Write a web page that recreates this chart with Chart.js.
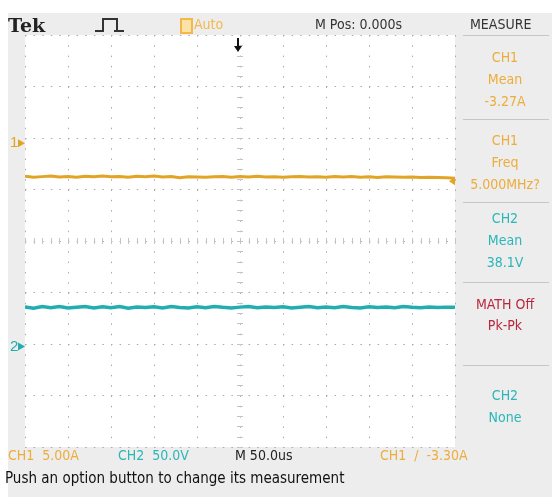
<!DOCTYPE html>
<html>
<head>
<meta charset="utf-8">
<script src="https://cdn.jsdelivr.net/npm/chart.js@4.4.0/dist/chart.umd.min.js"></script>
<style>
  body { margin: 0; background: #fff; width: 552px; height: 497px; overflow: hidden; position: relative;
         font-family: "Liberation Sans Narrow", "DejaVu Sans Condensed", "Liberation Sans", sans-serif; }
  #fundo { position: absolute; left: 8px; top: 13px; width: 544px; height: 484px; background: #ededed; }
  #grafico { position: absolute; left: 0; top: 0; }
  .txt { position: absolute; white-space: nowrap; font-size: 14px; line-height: 18px; }
  .painel { position: absolute; left: 458px; width: 94px; text-align: center; font-size: 14px; line-height: 22px; }
  .sep { position: absolute; left: 463px; width: 86px; height: 1px; background: #c6c6c6; }
</style>
</head>
<body>
<div id="fundo"></div>
<canvas id="grafico" width="552" height="497"></canvas>

<!-- cabecalho -->
<div class="txt" style="left:8px;top:14px;font-family:'DejaVu Serif',serif;font-weight:bold;font-size:19px;line-height:22px;color:#222">Tek</div>
<div style="position:absolute;left:95px;top:30px;width:8px;height:0;border-top:2px solid #333"></div>
<div style="position:absolute;left:102px;top:18px;width:12px;height:12px;border:2px solid #333;border-bottom:none"></div>
<div style="position:absolute;left:114px;top:30px;width:10px;height:0;border-top:2px solid #333"></div>
<div style="position:absolute;left:180px;top:18px;width:9px;height:12px;border:2px solid #f2b84a;background:#fbe3a8"></div>
<div class="txt" style="left:194px;top:15px;color:#f2b84a">Auto</div>
<div class="txt" style="left:315px;top:15px;color:#333">M Pos: 0.000s</div>
<div class="txt" style="left:470px;top:15px;color:#333">MEASURE</div>

<!-- painel de medidas -->
<div class="sep" style="top:35px"></div>
<div class="painel" style="top:46px;color:#eeac3a">CH1<br>Mean<br>-3.27A</div>
<div class="sep" style="top:119px"></div>
<div class="painel" style="top:129px;color:#eeac3a">CH1<br>Freq<br>5.000MHz?</div>
<div class="sep" style="top:202px"></div>
<div class="painel" style="top:207px;color:#2bb6b8">CH2<br>Mean<br>38.1V</div>
<div class="sep" style="top:282px"></div>
<div class="painel" style="top:294px;color:#b8283e;line-height:21px">MATH Off<br>Pk-Pk</div>
<div class="sep" style="top:365px"></div>
<div class="painel" style="top:384px;color:#2bb6b8">CH2<br>None</div>

<!-- rodape -->
<div class="txt" style="left:8px;top:446px;color:#eeac3a">CH1&nbsp;&nbsp;5.00A</div>
<div class="txt" style="left:118px;top:446px;color:#2bb6b8">CH2&nbsp;&nbsp;50.0V</div>
<div class="txt" style="left:235px;top:446px;color:#222">M 50.0us</div>
<div class="txt" style="left:380px;top:446px;color:#eeac3a">CH1&nbsp;&nbsp;/&nbsp;&nbsp;-3.30A</div>
<div class="txt" style="left:5px;top:469px;color:#111;font-size:15px">Push an option button to change its measurement</div>

<script>
// tempo em microssegundos (M 50.0us/div, 10 divisoes)
const tempoUs = [-250, -240, -230, -220, -210, -200, -190, -180, -170, -160,
                 -150, -140, -130, -120, -110, -100, -90, -80, -70, -60,
                 -50, -40, -30, -20, -10, 0, 10, 20, 30, 40,
                 50, 60, 70, 80, 90, 100, 110, 120, 130, 140,
                 150, 160, 170, 180, 190, 200, 210, 220, 230, 240, 250];

// CH1 corrente (A), 5.00A/div
const ch1Amperes = [-3.22, -3.30, -3.25, -3.20, -3.28, -3.24, -3.31, -3.22, -3.26, -3.19,
                    -3.27, -3.23, -3.30, -3.21, -3.25, -3.18, -3.29, -3.24, -3.35, -3.26,
                    -3.28, -3.31, -3.27, -3.25, -3.30, -3.24, -3.28, -3.22, -3.29, -3.26,
                    -3.31, -3.27, -3.23, -3.29, -3.26, -3.32, -3.25, -3.28, -3.24, -3.30,
                    -3.27, -3.33, -3.26, -3.29, -3.31, -3.28, -3.34, -3.30, -3.33, -3.36, -3.40];

// CH2 tensao (V), 50.0V/div
const ch2Volts = [38.5, 37.2, 38.9, 37.6, 38.8, 37.4, 38.2, 39.0, 37.5, 38.6,
                  37.8, 38.9, 37.3, 38.4, 37.9, 38.7, 37.5, 38.8, 38.0, 37.4,
                  38.6, 37.7, 38.9, 38.1, 37.5, 38.3, 38.8, 37.6, 38.5, 37.9,
                  38.7, 37.4, 38.2, 38.9, 37.8, 38.4, 37.6, 38.8, 38.0, 37.5,
                  38.6, 37.9, 38.3, 37.7, 38.8, 38.1, 37.6, 38.5, 38.0, 38.3, 38.1];

const ch1VoltsDiv = 5.0;
const ch2VoltsDiv = 50.0;
const ch1Posicao = 1.9;    // divisoes acima do centro (marcador "1")
const ch2Posicao = -2.05;  // divisoes abaixo do centro (marcador "2")
const nivelTrigger = -3.30;

const corCh1 = '#e2a425';
const corCh2 = '#22aeb0';

function paraDivisoes(valores, escala, posicao) {
  return valores.map((v, i) => ({ x: tempoUs[i], y: posicao + v / escala }));
}

const marcadores = {
  id: 'marcadores',
  beforeDraw(chart) {
    const { ctx, chartArea } = chart;
    ctx.save();
    ctx.fillStyle = '#ffffff';
    ctx.fillRect(chartArea.left, chartArea.top, chartArea.right - chartArea.left, chartArea.bottom - chartArea.top);
    ctx.restore();
  },
  afterDraw(chart) {
    const { ctx, chartArea } = chart;
    const xs = chart.scales.x;
    const ys = chart.scales.y;
    ctx.save();

    // marcas menores no eixo central
    ctx.strokeStyle = '#c4c4c4';
    ctx.lineWidth = 1;
    const cx = xs.getPixelForValue(0);
    const cy = ys.getPixelForValue(0);
    for (let t = -250; t <= 250; t += 10) {
      const px = Math.round(xs.getPixelForValue(t)) + 0.5;
      ctx.beginPath(); ctx.moveTo(px, cy - 3); ctx.lineTo(px, cy + 3); ctx.stroke();
    }
    for (let d = -4; d <= 4; d += 0.2) {
      const py = Math.round(ys.getPixelForValue(d)) + 0.5;
      ctx.beginPath(); ctx.moveTo(cx - 3, py); ctx.lineTo(cx + 3, py); ctx.stroke();
    }

    // marcadores de canal
    ctx.font = '15px "Liberation Sans Narrow", "Liberation Sans", sans-serif';
    ctx.textBaseline = 'middle';
    const canais = [['1', ch1Posicao, corCh1], ['2', ch2Posicao, corCh2]];
    canais.forEach(([nome, pos, cor]) => {
      const py = ys.getPixelForValue(pos);
      ctx.fillStyle = cor;
      ctx.fillText(nome, 10, py);
      ctx.beginPath();
      ctx.moveTo(18, py - 4); ctx.lineTo(25, py); ctx.lineTo(18, py + 4);
      ctx.closePath(); ctx.fill();
    });

    // posicao do trigger (seta no topo)
    const tx = xs.getPixelForValue(0) - 2;
    ctx.strokeStyle = '#111';
    ctx.fillStyle = '#111';
    ctx.lineWidth = 2;
    ctx.beginPath(); ctx.moveTo(tx, chartArea.top + 3); ctx.lineTo(tx, chartArea.top + 13); ctx.stroke();
    ctx.beginPath();
    ctx.moveTo(tx - 4, chartArea.top + 11); ctx.lineTo(tx + 4, chartArea.top + 11); ctx.lineTo(tx, chartArea.top + 17);
    ctx.closePath(); ctx.fill();

    // nivel do trigger (seta na borda direita)
    const ty = ys.getPixelForValue(ch1Posicao + nivelTrigger / ch1VoltsDiv) + 4;
    ctx.fillStyle = corCh1;
    ctx.beginPath();
    ctx.moveTo(chartArea.right, ty - 4); ctx.lineTo(chartArea.right - 6, ty); ctx.lineTo(chartArea.right, ty + 4);
    ctx.closePath(); ctx.fill();

    ctx.restore();
  }
};

const ctx = document.getElementById('grafico').getContext('2d');
new Chart(ctx, {
  type: 'line',
  data: {
    datasets: [
      {
        label: 'CH1',
        data: paraDivisoes(ch1Amperes, ch1VoltsDiv, ch1Posicao),
        borderColor: corCh1,
        borderWidth: 3,
        pointRadius: 0,
        tension: 0
      },
      {
        label: 'CH2',
        data: paraDivisoes(ch2Volts, ch2VoltsDiv, ch2Posicao),
        borderColor: corCh2,
        borderWidth: 3.5,
        pointRadius: 0,
        tension: 0
      }
    ]
  },
  options: {
    responsive: false,
    animation: false,
    layout: { padding: { left: 25, top: 35, right: 97, bottom: 50 } },
    plugins: {
      legend: { display: false },
      tooltip: { enabled: false }
    },
    scales: {
      x: {
        type: 'linear',
        min: -250,
        max: 250,
        ticks: { display: false, stepSize: 50 },
        grid: { color: '#a9a9a9', drawTicks: false },
        border: { display: false, dash: [1.5, 8.8] }
      },
      y: {
        min: -4,
        max: 4,
        ticks: { display: false, stepSize: 1 },
        grid: { color: '#a9a9a9', drawTicks: false },
        border: { display: false, dash: [1.5, 7.1] }
      }
    }
  },
  plugins: [marcadores]
});
</script>
</body>
</html>
